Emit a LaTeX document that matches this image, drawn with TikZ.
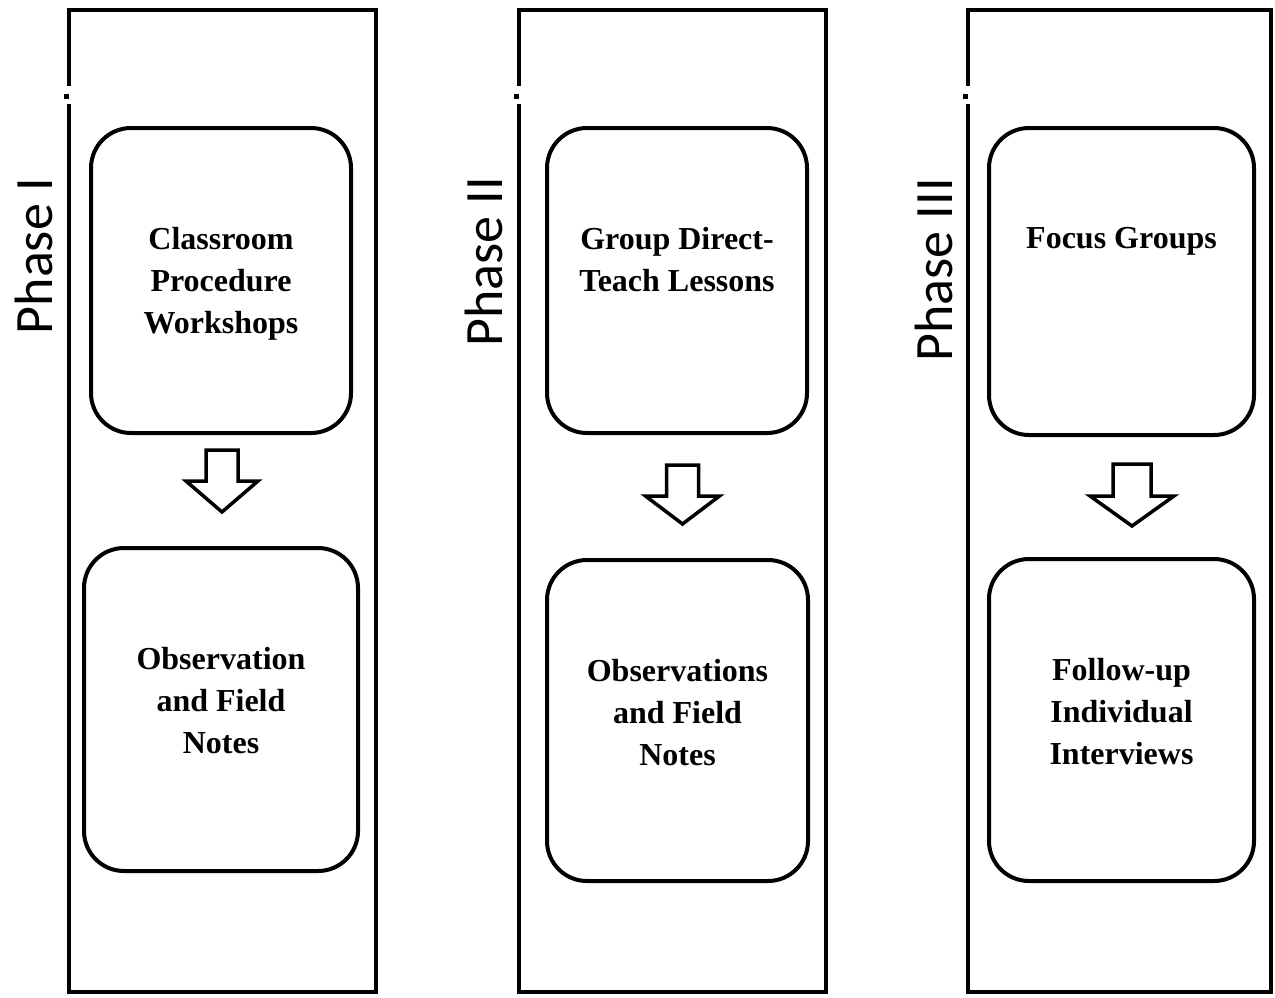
\documentclass[tikz,border=0pt]{standalone}
\usepackage{fontspec}
\setmainfont{Liberation Serif}
\newfontfamily\phasefont{Carlito}
\newcommand\blockarr[7]{% name, cx, top, shaft half, base, head half, tip
  \draw[arrowline] (#2-#4,#3) coordinate (#1) -- (#2+#4,#3) -- (#2+#4,#5) -- (#2+#6,#5)
     -- (#2,#7) -- (#2-#6,#5) -- (#2-#4,#5) -- cycle;}
\begin{document}
\begin{tikzpicture}[x=1pt,y=-1pt,
  column/.style={draw,line width=4pt,rectangle,inner sep=0pt},
  stepbox/.style={draw,line width=4pt,rectangle,rounded corners=40pt,inner sep=0pt},
  boxtext/.style={anchor=north,inner sep=0pt,align=center,font=\bfseries\fontsize{32}{42}\selectfont},
  phase/.style={rotate=90,anchor=base east,inner sep=0pt,font=\phasefont\fontsize{54}{60}\selectfont},
  arrowline/.style={draw,line width=3.5pt,line join=miter,fill=white}]
\useasboundingbox (0,0) rectangle (1275,997);
% columns
\node[column,minimum width=307pt,minimum height=982pt] (c1) at (222.5,501) {};
\node[column,minimum width=307pt,minimum height=982pt] (c2) at (672.5,501) {};
\node[column,minimum width=303pt,minimum height=982pt] (c3) at (1119.5,501) {};
% small gaps on left edges
\foreach \xx in {67,517,966}{
  \fill[white] (\xx-4,86) rectangle (\xx+4,104);
  \fill[black] (\xx-3,94) rectangle (\xx+2,99);
}
% phase labels
\node[phase] (p1) at (52,178) {Phase I};
\node[phase] (p2) at (502,177) {Phase II};
\node[phase] (p3) at (952,178) {Phase III};
% boxes
\node[stepbox,minimum width=260pt,minimum height=305pt] (b1a) at (221,280.5) {};
\node[stepbox,minimum width=274pt,minimum height=323pt] (b1b) at (221,709.5) {};
\node[stepbox,minimum width=260pt,minimum height=305pt] (b2a) at (677,280.5) {};
\node[stepbox,minimum width=261pt,minimum height=321pt] (b2b) at (677.5,720.5) {};
\node[stepbox,minimum width=265pt,minimum height=307pt] (b3a) at (1121.5,281.5) {};
\node[stepbox,minimum width=265pt,minimum height=322pt] (b3b) at (1121.5,720) {};
% texts
\node[boxtext] (t1a) at ([yshift=-101pt]b1a.north) {Classroom\\Procedure\\Workshops};
\node[boxtext] (t1b) at ([yshift=-101pt]b1b.north) {Observation\\and Field\\Notes};
\node[boxtext] (t2a) at ([yshift=-101pt]b2a.north) {Group Direct-\\Teach Lessons};
\node[boxtext] (t2b) at ([yshift=-101pt]b2b.north) {Observations\\and Field\\Notes};
\node[boxtext] (t3a) at ([yshift=-101pt]b3a.north) {Focus Groups};
\node[boxtext] (t3b) at ([yshift=-101pt]b3b.north) {Follow-up\\Individual\\Interviews};
% block arrows
\blockarr{a1}{222}{450}{16}{481}{36}{512}
\blockarr{a2}{682.5}{465}{16}{496}{37}{524}
\blockarr{a3}{1132}{464}{19}{496}{42}{526}
\end{tikzpicture}
\end{document}
